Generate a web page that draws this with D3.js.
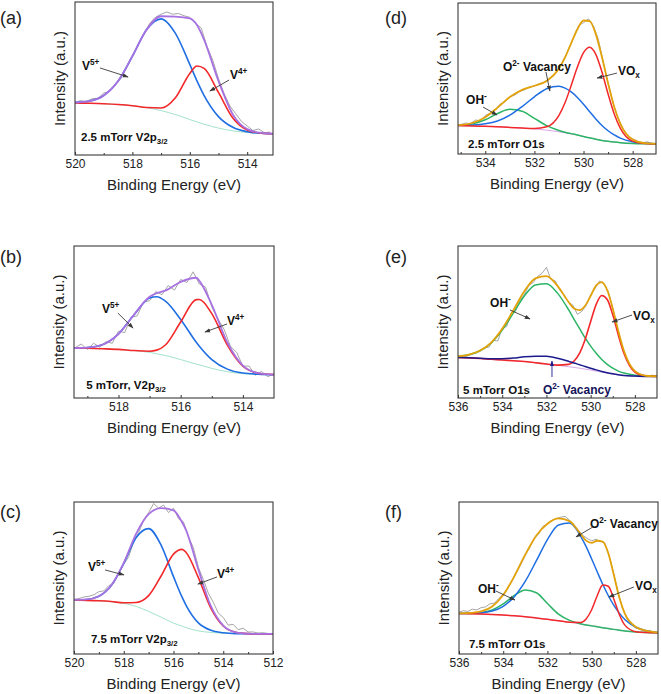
<!DOCTYPE html>
<html><head><meta charset="utf-8">
<script src="https://cdn.jsdelivr.net/npm/d3@7"></script>
<style>body{margin:0;background:#fff}svg{display:block;font-family:"Liberation Sans",Arial,sans-serif}</style>
</head><body><svg id="c" width="661" height="694"></svg>
<script>
// ---------- DATA (binding energy in eV, intensity in arbitrary units 0-100) ----------
// (a) 2.5 mTorr V2p3/2
const eA = [520, 519.5, 519, 518.5, 518, 517.5, 517, 516.5, 516, 515.75, 515.5, 515, 514.5, 514, 513.5, 513.1];
const bgA = [34, 33.8, 33.5, 33, 32.2, 30.9, 29, 26.4, 23.2, 21.6, 20.1, 17.6, 15.8, 14.7, 14.1, 13.9];
const v5A = [34.3, 35.2, 38.9, 48.3, 64.6, 82.0, 89.0, 79.5, 59.2, 48.4, 38.8, 25.1, 18.1, 15.2, 14.2, 13.9];
const v4A = [34, 33.8, 33.5, 33, 32.2, 31.0, 30.7, 37.4, 53.3, 58.2, 56.6, 40.9, 24.2, 16.4, 14.3, 13.9];
const envA = [34.3, 35.2, 38.9, 48.3, 64.6, 82.1, 90.7, 90.5, 89.3, 85.0, 75.3, 48.4, 26.5, 16.9, 14.4, 13.9];
const rawEA = [520,519.8,519.6,519.4,519.2,519,518.8,518.6,518.4,518.2,518,517.8,517.6,517.4,517.2,517,516.8,516.6,516.4,516.2,516,515.8,515.6,515.4,515.2,515,514.8,514.6,514.4,514.2,514,513.8,513.6,513.4,513.2];
const rawA = [34.5,35.5,35,36.8,37,40.5,41.5,46,50,57,64,72,79,86,90,92,93.5,92,92.5,91,90,86,83,71,62,50,40,32,27,22,19,16,17,14.5,15];

// (b) 5 mTorr V2p3/2
const eB = [519.43, 519, 518.5, 518, 517.5, 517, 516.77, 516.5, 516, 515.5, 515.4, 515, 514.5, 514, 513.5, 513];
const bgB = [32.8, 32.7, 32.4, 32.0, 31.2, 30.0, 29.1, 28.0, 25.3, 22.3, 21.8, 19.5, 17.3, 16.0, 15.5, 15.3];
const v5B = [32.9, 33.2, 35.2, 42.1, 54.8, 65.8, 66.6, 63.9, 51.7, 36.7, 34.1, 25.3, 19.0, 16.4, 15.6, 15.3];
const v4B = [32.8, 32.7, 32.4, 32.0, 31.2, 30.8, 31.5, 34.7, 50.0, 64.7, 64.8, 55.5, 34.8, 20.9, 16.3, 15.4];
const envB = [32.9, 33.2, 35.2, 42.1, 54.8, 66.6, 69.0, 70.6, 76.4, 79.1, 77.1, 61.3, 36.5, 21.3, 16.4, 15.4];
const rawEB = [519.4,519.2,519,518.8,518.6,518.4,518.2,518,517.8,517.6,517.4,517.2,517,516.8,516.6,516.4,516.2,516,515.8,515.6,515.4,515.2,515,514.8,514.6,514.4,514.2,514,513.8,513.6,513.4,513.2,513];
const rawB = [33,35.5,32,36,33.5,37,36,44,43,53,54,63,64,70,68,74,71,78,76,83,75,73,60,52,45,34,30,21,21,15,17.5,14,16];

// (c) 7.5 mTorr V2p3/2
const eC = [520, 519.5, 519, 518.5, 518, 517.5, 517, 516.5, 516, 515.65, 515.5, 515, 514.5, 514, 513.5, 513, 512.5, 512];
const bgC = [35.5, 35.3, 35, 34.4, 33.3, 31.3, 28, 24.3, 20.3, 18.3, 17.4, 15.2, 14.2, 13.7, 13.4, 13.3, 13.2, 13.2];
const v5C = [35.6, 35.9, 38, 45.1, 59.6, 76.6, 82.5, 71.6, 50.9, 37.2, 32.2, 20.5, 15.6, 14, 13.4, 13.3, 13.2, 13.2];
const v4C = [35.5, 35.3, 35, 34.5, 33.7, 33.9, 38.4, 51.3, 65.7, 68.8, 66.9, 50.2, 30.2, 18.4, 14.3, 13.4, 13.2, 13.2];
const envC = [35.6, 35.9, 38, 45.2, 60, 79.2, 92, 96, 94.5, 86.5, 81.7, 55.5, 31.6, 18.7, 14.3, 13.4, 13.2, 13.2];
const rawEC = [520,519.8,519.6,519.4,519.2,519,518.8,518.6,518.4,518.2,518,517.8,517.6,517.4,517.2,517,516.8,516.6,516.4,516.2,516,515.8,515.6,515.4,515.2,515,514.8,514.6,514.4,514.2,514,513.8,513.6,513.4,513.2,513,512.8,512.6,512.4,512.2,512];
const rawC = [36,36.5,37.5,38,39,41,41.5,45,46.5,53,59,64,74,80,88,93,99,96,98,93,96,89,87,77,70,57,49,40,34,27,24,19,19.5,16,17,14.5,14.5,13.8,14,13.5,13.5];

// (d) 2.5 mTorr O1s
const eD = [535.11, 534.5, 534, 533.5, 533, 532.5, 532, 531.5, 531, 530.75, 530.5, 530.25, 530, 529.75, 529.5, 529.25, 529, 528.75, 528.5, 528, 527.5, 527.05];
const bgD = [18.8, 18.6, 18.3, 18.0, 17.6, 17.2, 16.6, 15.8, 14.7, 14.0, 13.3, 12.5, 11.6, 10.7, 9.8, 9.0, 8.4, 7.9, 7.5, 7.0, 6.8, 6.7];
const ohD = [19.0, 20.1, 22.7, 26.8, 29.6, 28.3, 23.6, 18.8, 15.6, 14.4, 13.5, 12.6, 11.6, 10.7, 9.8, 9.0, 8.4, 7.9, 7.5, 7.0, 6.8, 6.7];
const vacD = [18.9, 19.2, 20.0, 21.9, 25.7, 31.4, 37.9, 43.2, 44.8, 43.6, 41.1, 37.4, 32.9, 28.0, 23.2, 18.9, 15.4, 12.6, 10.5, 8.1, 7.1, 6.8];
const voxD = [18.8, 18.6, 18.3, 18.0, 17.6, 17.2, 16.9, 18.0, 25.6, 34.1, 45.5, 57.6, 67.1, 70.7, 66.0, 54.3, 39.7, 26.5, 17.0, 8.5, 6.9, 6.7];
const envD = [19.1, 20.7, 24.4, 30.7, 37.7, 42.5, 45.2, 48.4, 56.6, 64.1, 73.5, 82.6, 88.4, 88.0, 79.4, 64.2, 46.7, 31.2, 20.0, 9.6, 7.2, 6.8];
const rawED = [535,534.8,534.6,534.4,534.2,534,533.8,533.6,533.4,533.2,533,532.8,532.6,532.4,532.2,532,531.8,531.6,531.4,531.2,531,530.8,530.6,530.4,530.2,530,529.8,529.6,529.4,529.2,529,528.8,528.6,528.4,528.2,528,527.8,527.6,527.4,527.2];
const rawD = [19.5,20.5,20,22.5,22,25.5,27,29,33,34.5,38,39,41.5,42.5,44.5,45,46.5,47.5,50,52,57,62,70,77,85,87,89.5,85,76,61,47,34,24,17,12,10,8.5,7.5,8,7];

// (e) 5 mTorr O1s
const eE = [536, 535.5, 535, 534.5, 534, 533.5, 533, 532.5, 532, 531.5, 531, 530.75, 530.5, 530.25, 530, 529.75, 529.5, 529.25, 529, 528.75, 528.5, 528, 527.5, 527];
const bgE = [26.7, 26.4, 26.0, 25.5, 25.0, 24.5, 24.0, 23.2, 22.4, 21.5, 20.6, 20.1, 19.6, 19.0, 18.4, 17.7, 17.0, 16.3, 15.7, 15.2, 14.8, 14.4, 14.2, 14.2];
const ohE = [27.4, 28.5, 31.1, 36.2, 44.7, 55.8, 67.1, 74.4, 75.2, 69.0, 58.1, 51.8, 45.6, 39.5, 34.1, 29.4, 25.3, 22.1, 19.6, 17.7, 16.4, 15.0, 14.4, 14.25];
const vacE = [26.7, 26.4, 26.1, 25.8, 25.9, 26.3, 27.1, 27.5, 27.4, 26.2, 24.2, 23.0, 21.9, 20.7, 19.6, 18.5, 17.5, 16.6, 15.9, 15.3, 14.8, 14.4, 14.2, 14.2];
const voxE = [26.7, 26.4, 26.0, 25.5, 25.0, 24.5, 24.0, 23.2, 22.4, 21.6, 22.1, 24.3, 29.5, 38.5, 50.3, 61.6, 67.4, 64.8, 54.7, 41.5, 29.6, 17.1, 14.45, 14.2];
const envE = [27.4, 28.5, 31.2, 36.5, 45.6, 57.6, 70.2, 78.7, 80.2, 73.8, 63.2, 58.9, 57.8, 60.7, 67.2, 74.1, 76.2, 70.9, 58.8, 44.1, 31.2, 17.7, 14.65, 14.25];
const rawEE = [536,535.8,535.6,535.4,535.2,535,534.8,534.6,534.4,534.2,534,533.8,533.6,533.4,533.2,533,532.8,532.6,532.4,532.2,532,531.8,531.6,531.4,531.2,531,530.8,530.6,530.4,530.2,530,529.8,529.6,529.4,529.2,529,528.8,528.6,528.4,528.2,528,527.8,527.6,527.4,527.2,527];
const rawE = [27,28,27.5,29,29.5,31,33,33.5,38,37.5,46,47,56,57,64,68,74,76,80,82,86,78,77,71,68,63,61,55,57,61,68,72,77,75,70,59,47,35,27,21,17.5,16,15,14.5,15,14];

// (f) 7.5 mTorr O1s
const eF = [536, 535.5, 535, 534.5, 534, 533.5, 533, 532.5, 532, 531.5, 531, 530.5, 530.25, 530, 529.75, 529.5, 529.25, 529, 528.75, 528.5, 528, 527.5, 527];
const bgF = [26.6, 26.5, 26.3, 26.0, 25.6, 25.1, 24.5, 23.7, 22.8, 21.9, 20.9, 19.7, 19.1, 18.5, 17.9, 17.3, 16.7, 16.2, 15.7, 15.2, 14.5, 14.1, 13.9];
const ohF = [26.6, 26.7, 27.2, 29.0, 33.0, 38.5, 42.1, 40.3, 33.2, 26.2, 22.1, 19.9, 19.1, 18.5, 17.9, 17.3, 16.7, 16.2, 15.7, 15.2, 14.5, 14.1, 13.9];
const vacF = [26.7, 26.8, 27.1, 28.3, 31.4, 37.7, 47.9, 61.4, 75.3, 84.9, 86.2, 77.6, 70.6, 62.5, 54.1, 45.9, 38.5, 32.1, 26.9, 22.7, 17.6, 15.2, 14.2];
const voxF = [26.6, 26.5, 26.3, 26.0, 25.6, 25.1, 24.5, 23.7, 22.8, 21.9, 20.9, 20.8, 23.1, 29.1, 38.3, 45.4, 44.6, 36.2, 26.0, 19.0, 14.7, 14.1, 13.9];
const envF = [26.7, 27.0, 28.0, 31.3, 38.8, 51.1, 65.5, 78.0, 85.7, 89.2, 87.4, 78.9, 74.6, 73.1, 74.5, 74.0, 66.4, 52.1, 37.2, 26.5, 17.8, 15.2, 14.2];
const rawEF = [536,535.8,535.6,535.4,535.2,535,534.8,534.6,534.4,534.2,534,533.8,533.6,533.4,533.2,533,532.8,532.6,532.4,532.2,532,531.8,531.6,531.4,531.2,531,530.8,530.6,530.4,530.2,530,529.8,529.6,529.4,529.2,529,528.8,528.6,528.4,528.2,528,527.8,527.6,527.4,527.2,527];
const rawF = [27.5,28.5,28,29.5,29,30.5,31,33,33.5,36.5,39.5,43,48,53.5,59,65,70,76,79,84,85.5,88,89,90,90.5,88,85,81.5,78,76,74.5,75.5,74,73,64,53,40,30,23,19.5,17,16.5,15,15.5,14.5,14];

// tick labels
const ticksA = [520, 518, 516, 514], minorA = [519, 517, 515];
const ticksB = [518, 516, 514], minorB = [519, 517, 515];
const ticksC = [520, 518, 516, 514, 512], minorC = [519, 517, 515, 513];
const ticksD = [534, 532, 530, 528], minorD = [535, 533, 531, 529];
const ticksE = [536, 534, 532, 530, 528], minorE = [535, 533, 531, 529];
const ticksF = [536, 534, 532, 530, 528], minorF = [535, 533, 531, 529];

// ---------- STYLE ----------
const C = {raw:'#9b9b9b', bgV:'#a3e3cc', blue:'#1f6fe3', red:'#f2282a', purple:'#a872e2',
           bgO:'#d8a8e8', green:'#2cb466', gold:'#e3a20a', navy:'#1b1b8c', ink:'#222'};

const svg = d3.select('#c');
const defs = svg.append('defs');
function marker(id, col){
  defs.append('marker').attr('id',id).attr('viewBox','0 0 10 10').attr('refX',9).attr('refY',5)
    .attr('markerUnits','userSpaceOnUse').attr('markerWidth',6).attr('markerHeight',6).attr('orient','auto')
    .append('path').attr('d','M0,1.5 L10,5 L0,8.5 z').attr('fill',col);
}
marker('ah','#3a3a3a'); marker('ahn', C.navy);

function rich(sel, parts, size){
  let shift = 0;
  parts.forEach(([t,s])=>{
    const target = s==='sup' ? -0.4*size : s==='sub' ? 0.28*size : 0;
    const ts = sel.append('tspan').text(t).attr('dy', target-shift);
    if (s) ts.attr('font-size', size*0.68);
    shift = target;
  });
}

const panels = [
 {L:'(a)', lx:0, ly:24, rect:[75,2,273,155], dom:[520,513.1], ticks:ticksA, minor:minorA,
  raw:[rawEA,rawA], series:[[eA,bgA,C.bgV,1],[eA,v5A,C.blue,1.6],[eA,v4A,C.red,1.6],[eA,envA,C.purple,1.8]],
  ann:[{p:[['V',''],['5+','sup']],at:[519.76,55.6],fr:[519.13,56.9],to:[518.15,51]},
       {p:[['V',''],['4+','sup']],at:[514.6,49.7],fr:[514.63,49],to:[515.3,41.8]},
       {p:[['2.5 mTorr V2p',''],['3/2','sub']],at:[519.79,9.2],s:true}]},
 {L:'(b)', lx:0, ly:263, rect:[74,246,274,398], dom:[519.43,513.0], ticks:ticksB, minor:minorB,
  raw:[rawEB,rawB], series:[[eB,bgB,C.bgV,1],[eB,v5B,C.blue,1.6],[eB,v4B,C.red,1.6],[eB,envB,C.purple,1.8]],
  ann:[{p:[['V',''],['5+','sup']],at:[518.53,55.9],fr:[518.02,55.9],to:[517.53,46]},
       {p:[['V',''],['4+','sup']],at:[514.51,48],fr:[514.51,48.7],to:[515.22,43.4]},
       {p:[['5 mTorr, V2p',''],['3/2','sub']],at:[519.04,5.9],s:true}]},
 {L:'(c)', lx:0, ly:518, rect:[74,502,273,654], dom:[520,512], ticks:ticksC, minor:minorC,
  raw:[rawEC,rawC], series:[[eC,bgC,C.bgV,1],[eC,v5C,C.blue,1.6],[eC,v4C,C.red,1.6],[eC,envC,C.purple,1.8]],
  ann:[{p:[['V',''],['5+','sup']],at:[519.44,54.6],fr:[518.75,55.3],to:[517.99,52]},
       {p:[['V',''],['4+','sup']],at:[514.25,50],fr:[514.25,50.7],to:[515.02,46]},
       {p:[['7.5 mTorr V2p',''],['3/2','sub']],at:[519.32,7.2],s:true}]},
 {L:'(d)', lx:385, ly:24, rect:[458,3,656,154], dom:[535.11,527.05], ticks:ticksD, minor:minorD,
  raw:[rawED,rawD], series:[[eD,bgD,C.bgO,1],[eD,ohD,C.green,1.5],[eD,vacD,C.blue,1.5],[eD,voxD,C.red,1.5],[eD,envD,C.gold,1.8]],
  ann:[{p:[['O',''],['2-','sup'],[' Vacancy','']],at:[533.28,55],fr:[531.53,54.3],to:[531.37,41.7]},
       {p:[['OH',''],['-','sup']],at:[534.78,33.1],fr:[534.09,31.1],to:[533.52,25.8]},
       {p:[['VO',''],['x','sub']],at:[528.6,52.3],fr:[528.64,53.6],to:[529.45,50.3]},
       {p:[['2.5 mTorr O1s','']],at:[534.7,4],s:true}]},
 {L:'(e)', lx:385, ly:263, rect:[458,246,657,398], dom:[536,527], ticks:ticksE, minor:minorE,
  raw:[rawEE,rawE], series:[[eE,bgE,C.bgO,1],[eE,ohE,C.green,1.5],[eE,voxE,C.red,1.6],[eE,vacE,C.navy,1.5],[eE,envE,C.gold,1.8]],
  ann:[{p:[['OH',''],['-','sup']],at:[534.55,59.9],fr:[533.65,57.9],to:[532.74,52]},
       {p:[['VO',''],['x','sub']],at:[528.09,51.3],fr:[528.13,54.6],to:[529.03,50]},
       {p:[['O',''],['2-','sup'],[' Vacancy','']],at:[532.16,2.6],fr:[531.75,13.8],to:[531.75,24.3],navy:true},
       {p:[['5 mTorr O1s','']],at:[535.77,2.6],s:true}]},
 {L:'(f)', lx:385, ly:518, rect:[459,502,658,654], dom:[536,527], ticks:ticksF, minor:minorF,
  raw:[rawEF,rawF], series:[[eF,bgF,C.bgO,1],[eF,ohF,C.green,1.5],[eF,vacF,C.blue,1.5],[eF,voxF,C.red,1.5],[eF,envF,C.gold,1.8]],
  ann:[{p:[['O',''],['2-','sup'],[' Vacancy','']],at:[530.08,82.9],fr:[529.94,83.6],to:[530.71,77]},
       {p:[['OH',''],['-','sup']],at:[535.14,40.1],fr:[534.33,41.4],to:[533.47,35.5]},
       {p:[['VO',''],['x','sub']],at:[528.04,42.1],fr:[528.09,44.1],to:[529.22,37.5]},
       {p:[['7.5 mTorr O1s','']],at:[535.55,3.9],s:true}]}
];

panels.forEach((P,i)=>{
  const [x0,y0,x1,y1] = P.rect;
  const x = d3.scaleLinear().domain(P.dom).range([x0,x1]);
  const y = d3.scaleLinear().domain([0,100]).range([y1,y0]);
  const g = svg.append('g');
  const cid = 'clip'+i;
  defs.append('clipPath').attr('id',cid).append('rect').attr('x',x0).attr('y',y0).attr('width',x1-x0).attr('height',y1-y0);
  const pg = g.append('g').attr('clip-path',`url(#${cid})`);
  const lineLin = d3.line().x(d=>x(d[0])).y(d=>y(d[1]));
  const lineSm = d3.line().x(d=>x(d[0])).y(d=>y(d[1])).curve(d3.curveMonotoneX);
  pg.append('path').datum(d3.zip(P.raw[0],P.raw[1])).attr('d',lineLin)
    .attr('fill','none').attr('stroke',C.raw).attr('stroke-width',0.9);
  P.series.forEach(([E,V,col,w])=>{
    pg.append('path').datum(d3.zip(E,V)).attr('d',lineSm).attr('fill','none')
      .attr('stroke',col).attr('stroke-width',w).attr('stroke-linejoin','round');
  });
  // axes
  const ax = g.append('g').attr('transform',`translate(0,${y1})`)
    .call(d3.axisBottom(x).tickValues(P.ticks).tickFormat(d3.format('d')).tickSize(-3).tickPadding(4));
  ax.select('.domain').remove();
  ax.selectAll('line').attr('stroke','#333');
  ax.selectAll('text').attr('font-size',12).attr('fill',C.ink).attr('font-family','"Liberation Sans",Arial,sans-serif');
  const mx = g.append('g').attr('transform',`translate(0,${y1})`)
    .call(d3.axisBottom(x).tickValues(P.minor).tickFormat('').tickSize(-2));
  mx.select('.domain').remove();
  mx.selectAll('line').attr('stroke','#333');
  g.append('rect').attr('x',x0).attr('y',y0).attr('width',x1-x0).attr('height',y1-y0)
    .attr('fill','none').attr('stroke','#3a3a3a').attr('stroke-width',1.1);
  // titles
  g.append('text').attr('x',(x0+x1)/2).attr('y',y1+35).attr('text-anchor','middle')
    .attr('font-size',15).attr('fill',C.ink).text('Binding Energy (eV)');
  g.append('text').attr('transform',`translate(${x0-10},${(y0+y1)/2}) rotate(-90)`).attr('text-anchor','middle')
    .attr('font-size',15).attr('fill',C.ink).text('Intensity (a.u.)');
  g.append('text').attr('x',P.lx).attr('y',P.ly).attr('font-size',18).attr('fill',C.ink).text(P.L);
  // annotations
  P.ann.forEach(a=>{
    const size = a.s ? 11.5 : 12;
    const t = g.append('text').attr('x',x(a.at[0])).attr('y',y(a.at[1])).attr('font-size',size)
      .attr('font-weight','bold').attr('fill',a.navy?'#14145a':'#111');
    rich(t, a.p, size);
    if (a.fr){
      g.append('line').attr('x1',x(a.fr[0])).attr('y1',y(a.fr[1])).attr('x2',x(a.to[0])).attr('y2',y(a.to[1]))
        .attr('stroke',a.navy?C.navy:'#3a3a3a').attr('stroke-width',0.9)
        .attr('marker-end',`url(#${a.navy?'ahn':'ah'})`);
    }
  });
});
</script></body></html>
